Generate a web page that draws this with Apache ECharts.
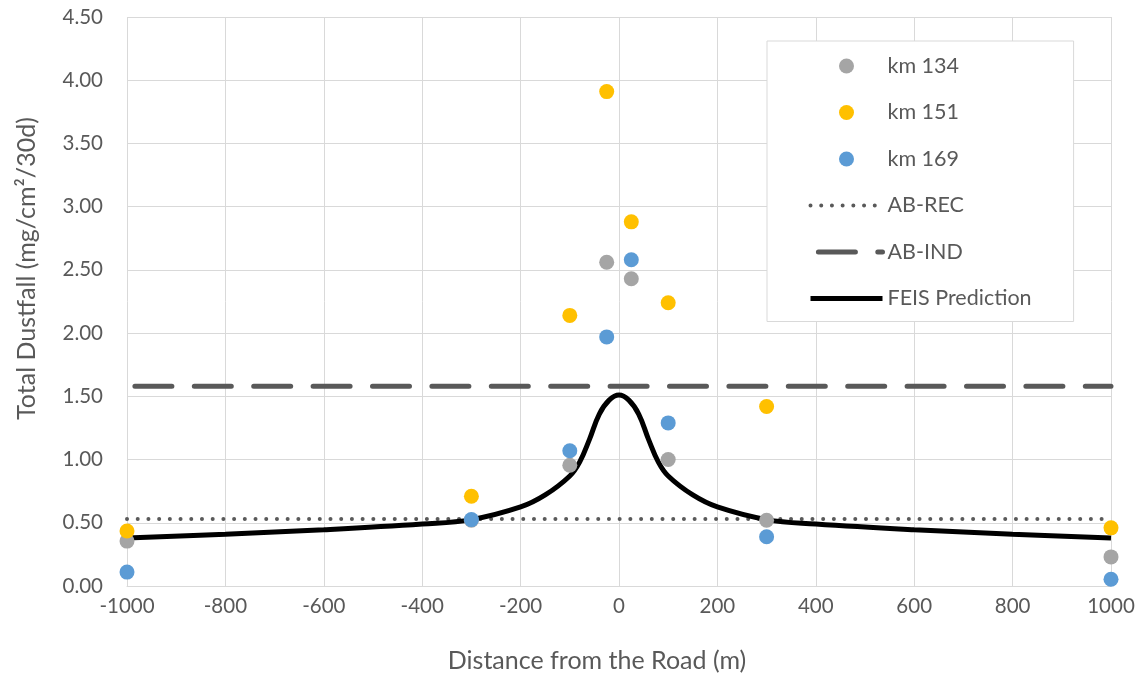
<!DOCTYPE html>
<html>
<head>
<meta charset="utf-8">
<script src="https://cdn.jsdelivr.net/npm/echarts@6/dist/echarts.min.js"></script>
<style>
html,body{margin:0;padding:0;background:#fff;}
#chart{width:1141px;height:673px;}
</style>
</head>
<body>
<div id="chart"></div>
<script>
// ---- data ----
const distances = [-1000, -300, -100, -25, 25, 100, 300, 1000];
const km134 = [0.355, 0.52, 0.955, 2.56, 2.43, 1.00, 0.52, 0.23];
const km151 = [0.435, 0.71, 2.14, 3.91, 2.88, 2.24, 1.42, 0.46];
const km169 = [0.11, 0.525, 1.07, 1.97, 2.58, 1.29, 0.39, 0.053];
const limitX = [-1000, 1000];
const abRec = [0.53, 0.53];
const abInd = [1.58, 1.58];
const feisX = [-1000, -800, -600, -400, -300, -200, -150, -100, -80, -60, -40, -20, 0, 20, 40, 60, 80, 100, 150, 200, 300, 400, 600, 800, 1000];
const feisY = [0.38, 0.41, 0.445, 0.49, 0.525, 0.625, 0.72, 0.87, 0.98, 1.16, 1.36, 1.47, 1.51, 1.47, 1.36, 1.16, 0.98, 0.87, 0.72, 0.625, 0.525, 0.49, 0.445, 0.41, 0.38];
const seriesNames = ['km 134', 'km 151', 'km 169', 'AB-REC', 'AB-IND', 'FEIS Prediction'];
const xTicks = {min: -1000, max: 1000, interval: 200};
const yTicks = {min: 0, max: 4.5, interval: 0.5};

const zip = (xs, ys) => xs.map((x, i) => [x, ys[i]]);
const FONT = 'Lato';
const TXT = '#595959';
const GRID = '#d9d9d9';

const recStyle = {color: '#595959', width: 4, type: [0.01, 10.7], cap: 'round'};
const indStyle = {color: '#595959', width: 5, type: [37, 22.4], dashOffset: 51.5, cap: 'round'};
const feisStyle = {color: '#000000', width: 5};

const chart = echarts.init(document.getElementById('chart'), null, {renderer: 'canvas'});
chart.setOption({
  animation: false,
  backgroundColor: '#ffffff',
  grid: {left: 127, right: 30, top: 17, bottom: 87, containLabel: false, outerBoundsMode: 'none'},
  xAxis: {
    type: 'value', min: xTicks.min, max: xTicks.max, interval: xTicks.interval,
    name: 'Distance from the Road (m)', nameLocation: 'middle', nameGap: 62,
    nameTextStyle: {fontFamily: FONT, fontSize: 25, color: TXT, padding: [0, 44, 0, 0]},
    axisLine: {show: true, lineStyle: {color: GRID, width: 1}},
    axisTick: {show: false},
    axisLabel: {fontFamily: FONT, fontSize: 20.5, color: TXT, margin: 10, formatter: v => String(v)},
    splitLine: {show: true, lineStyle: {color: GRID, width: 1}}
  },
  yAxis: {
    type: 'value', min: yTicks.min, max: yTicks.max, interval: yTicks.interval,
    name: 'Total Dustfall (mg/cm²/30d)', nameLocation: 'middle', nameGap: 88,
    nameTextStyle: {fontFamily: FONT, fontSize: 25, color: TXT, padding: [0, 0, 0, 66]},
    axisLine: {show: false},
    axisTick: {show: false},
    axisLabel: {fontFamily: FONT, fontSize: 20.5, color: TXT, margin: 24, formatter: v => v.toFixed(2)},
    splitLine: {show: true, lineStyle: {color: GRID, width: 1}}
  },
  legend: {
    orient: 'vertical', left: 767, top: 41,
    align: 'left',
    data: [
      {name: seriesNames[0]},
      {name: seriesNames[1]},
      {name: seriesNames[2]},
      {name: seriesNames[3], itemStyle: {opacity: 0}, lineStyle: recStyle},
      {name: seriesNames[4], itemStyle: {opacity: 0}, lineStyle: indStyle},
      {name: seriesNames[5], itemStyle: {opacity: 0}, lineStyle: feisStyle}
    ],
    itemWidth: 72, itemHeight: 15, itemGap: 24.5,
    padding: [14, 42, 12, 41],
    backgroundColor: '#ffffff', borderColor: GRID, borderWidth: 1,
    textStyle: {fontFamily: FONT, fontSize: 21.5, color: TXT}
  },
  series: [
    {name: 'AB-REC', type: 'line', data: zip(limitX, abRec), symbol: 'none', z: 2,
     lineStyle: recStyle, itemStyle: {color: '#595959'}},
    {name: 'AB-IND', type: 'line', data: zip(limitX, abInd), symbol: 'none', z: 2,
     lineStyle: indStyle, itemStyle: {color: '#595959'}},
    {name: 'FEIS Prediction', type: 'line', data: zip(feisX, feisY), symbol: 'none', smooth: 0.4, z: 3,
     lineStyle: feisStyle, itemStyle: {color: '#000000'}},
    {name: 'km 134', type: 'scatter', data: zip(distances, km134), symbolSize: 15, z: 5,
     itemStyle: {color: '#A5A5A5', opacity: 1}},
    {name: 'km 151', type: 'scatter', data: zip(distances, km151), symbolSize: 15, z: 5,
     itemStyle: {color: '#FFC000', opacity: 1}},
    {name: 'km 169', type: 'scatter', data: zip(distances, km169), symbolSize: 15, z: 5,
     itemStyle: {color: '#5B9BD5', opacity: 1}}
  ]
});
</script>
</body>
</html>
